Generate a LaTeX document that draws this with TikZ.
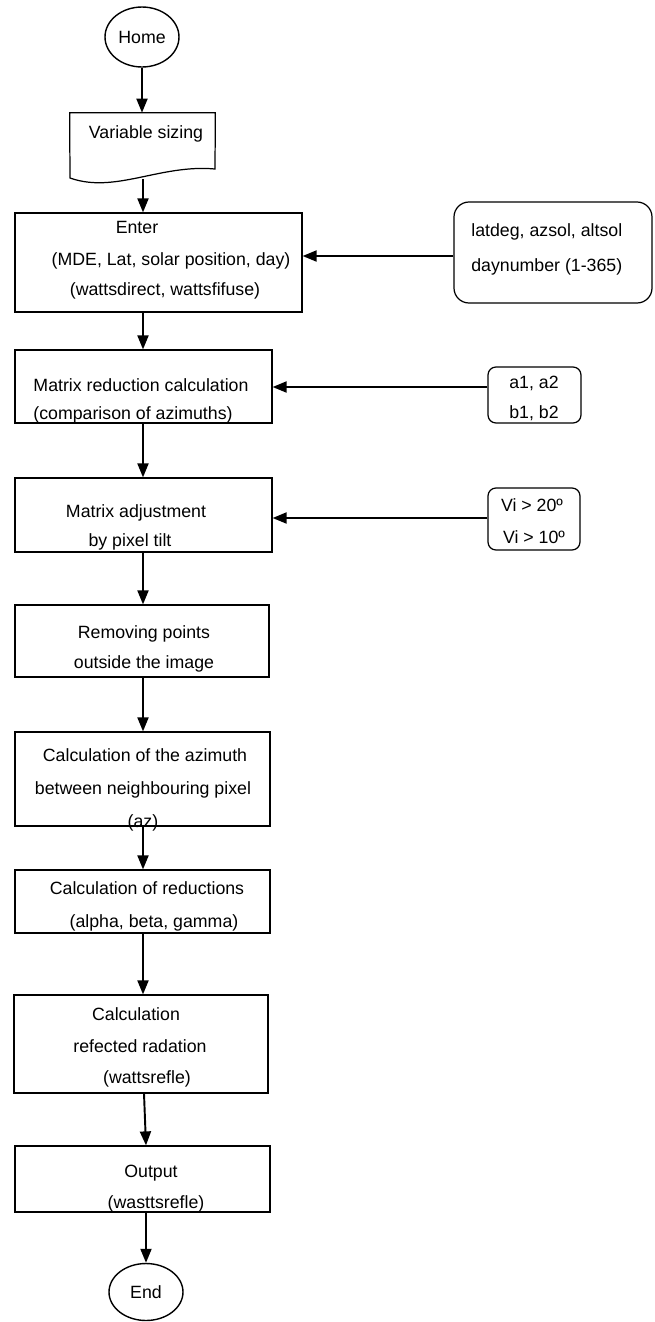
\documentclass[tikz,border=0pt]{standalone}
\usepackage{fontspec}
\setmainfont{Liberation Sans}
\usetikzlibrary{fit,shapes.geometric,arrows.meta}
\begin{document}
\begin{tikzpicture}[x=0.02cm,y=-0.02cm,
  font=\fontsize{10.1}{12}\selectfont,
  box/.style={draw, line width=0.7pt, inner sep=0pt, rectangle},
  rbox/.style={box, rounded corners=0.16cm},
  bigrbox/.style={box, rounded corners=0.3cm},
  hid/.style={inner sep=0pt, rectangle},
  txt/.style={inner sep=0pt, text height=7.2pt, text depth=0pt},
  ltxt/.style={txt, anchor=west},
  arr/.style={line width=1.1pt, -{Triangle[length=0.28cm,width=0.22cm]}},
  link/.style={line width=1.1pt, -{Triangle[length=0.28cm,width=0.22cm]}},
  term/.style={draw, ellipse, line width=0.8pt, inner sep=0pt, minimum width=1.48cm}]
\useasboundingbox (0,0) rectangle (654,1322);

% terminals
\node[term, minimum height=1.2cm] (home) at (142,37) {Home};
\node[term, minimum height=1.14cm] (end) at (146,1292) {End};

% variable sizing (document shape)
\node[hid, fit={(70,113) (215,178)}] (vs) {};
\draw[line width=0.7pt] (vs.north west) -- (vs.north east) -- (215,169)
  .. controls (160,164) and (115,194) .. (70,178) -- cycle;
\node[txt] (tvs) at (146,132) {Variable sizing};
\coordinate (vsb) at (143,179);

% process boxes
\node[box, fit={(15,213) (302,312)}] (enter) {};
\node[txt] (te1) at (137,227) {Enter};
\node[txt] (te2) at (171,259) {(MDE, Lat, solar position, day)};
\node[txt] (te3) at (165,289) {(wattsdirect, wattsfifuse)};

\node[box, fit={(15,350) (272,423)}] (mr) {};
\node[txt] (tm1) at (141,385) {Matrix reduction calculation};
\node[txt] (tm2) at (133,413) {(comparison of azimuths)};

\node[box, fit={(15,478) (272,552)}] (ma) {};
\node[txt] (ta1) at (136,511) {Matrix adjustment};
\node[txt] (ta2) at (130,540) {by pixel tilt};

\node[box, fit={(15,605) (269,677)}] (rp) {};
\node[txt] (tr1) at (144,632) {Removing points};
\node[txt] (tr2) at (144,662) {outside the image};

\node[box, fit={(15,732) (270,826)}] (az) {};
\node[txt] (tz1) at (145,755) {Calculation of the azimuth};
\node[txt] (tz2) at (143,788) {between neighbouring pixel};
\node[txt] (tz3) at (143,821) {(az)};

\node[box, fit={(15,870) (270,933)}] (cr) {};
\node[txt] (tc1) at (147,888) {Calculation of reductions};
\node[txt] (tc2) at (154,921) {(alpha, beta, gamma)};

\node[box, fit={(14,995) (268,1093)}] (rf) {};
\node[txt] (tf1) at (136,1014) {Calculation};
\node[txt] (tf2) at (140,1046) {refected radation};
\node[txt] (tf3) at (147,1077) {(wattsrefle)};

\node[box, fit={(15,1146) (270,1212)}] (out) {};
\node[txt] (to1) at (151,1171) {Output};
\node[txt] (to2) at (156,1202) {(wasttsrefle)};

% input boxes on the right
\node[bigrbox, fit={(454,202) (652,303)}] (lat) {};
\node[ltxt] (tl1) at (471,230) {latdeg, azsol, altsol};
\node[ltxt] (tl2) at (471,265) {daynumber (1-365)};

\node[rbox, fit={(488,367) (581,423)}] (ab) {};
\node[txt] (tb1) at (534,382) {a1, a2};
\node[txt] (tb2) at (534,412) {b1, b2};

\node[rbox, fit={(488,488) (580,550)}] (vi) {};
\node[txt] (tv1) at (532,505) {Vi > 20º};
\node[txt] (tv2) at (534,537) {Vi > 10º};

% main flow
\coordinate (ax) at (143,0);
\coordinate (bx) at (145,0);
\draw[arr] (home.south) -- (home.south |- vs.north);
\draw[arr] (vsb) -- (vsb |- enter.north);
\draw[arr] (ax |- enter.south) -- (ax |- mr.north);
\draw[arr] (ax |- mr.south) -- (ax |- ma.north);
\draw[arr] (ax |- ma.south) -- (ax |- rp.north);
\draw[arr] (ax |- rp.south) -- (ax |- az.north);
\draw[arr] (ax |- az.south) -- (ax |- cr.north);
\draw[arr] (ax |- cr.south) -- (ax |- rf.north);
\draw[arr] (144,0 |- rf.south) -- (146,0 |- out.north);
\draw[arr] (146,0 |- out.south) -- (end.north);

% side inputs
\coordinate (la) at (0,256);
\coordinate (lb) at (0,387);
\coordinate (lc) at (0,518);
\draw[link] (lat.west |- la) -- (enter.east |- la);
\draw[link] (ab.west |- lb) -- (mr.east |- lb);
\draw[link] (vi.west |- lc) -- (ma.east |- lc);
\end{tikzpicture}
\end{document}
